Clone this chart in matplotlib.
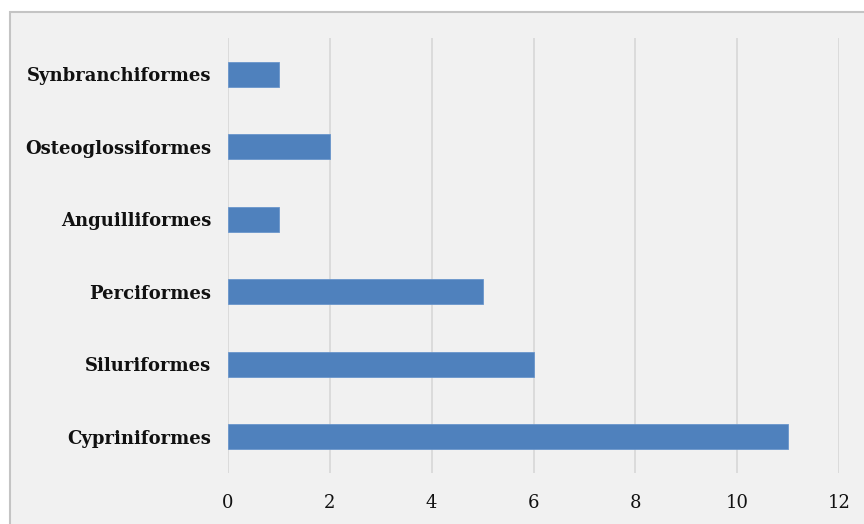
import matplotlib
matplotlib.use("Agg")
import matplotlib.pyplot as plt
from matplotlib.patches import Rectangle

categories = ["Cypriniformes", "Siluriformes", "Perciformes", "Anguilliformes",
              "Osteoglossiformes", "Synbranchiformes"]
values = [11, 6, 5, 1, 2, 1]
xticks = [0, 2, 4, 6, 8, 10, 12]

fig = plt.figure(figsize=(8.64, 5.24), dpi=100, facecolor="white")
bg = Rectangle((9.5 / 864, -0.01), 1.0, (524 - 11.5) / 524 + 0.01,
               transform=fig.transFigure, facecolor="#f1f1f1",
               edgecolor="#c4c4c4", linewidth=1.5, zorder=-10)
fig.patches.append(bg)

ax = fig.add_axes([228 / 864, (524 - 473) / 524, (839 - 228) / 864, (473 - 38) / 524])
ax.set_facecolor("none")
ypos = list(range(len(categories)))
ax.barh(ypos, values, height=0.34, color="#4f81bd", edgecolor="#6a96cc", linewidth=0.6, zorder=3)
ax.set_xlim(0, 12)
ax.set_ylim(-0.5, len(categories) - 0.5)
ax.set_xticks(xticks)
ax.set_xticklabels([str(t) for t in xticks], fontfamily="DejaVu Serif", fontsize=13, color="#111111")
ax.set_yticks(ypos)
ax.set_yticklabels(categories, fontfamily="DejaVu Serif", fontweight="bold", fontsize=13, color="#111111")
ax.grid(axis="x", color="#d9d9d9", linewidth=1.3, zorder=0)
for s in ax.spines.values():
    s.set_visible(False)
ax.tick_params(axis="both", length=0)
ax.tick_params(axis="x", pad=15)
ax.tick_params(axis="y", pad=12)

fig.savefig("out.png", dpi=100, facecolor="white")
